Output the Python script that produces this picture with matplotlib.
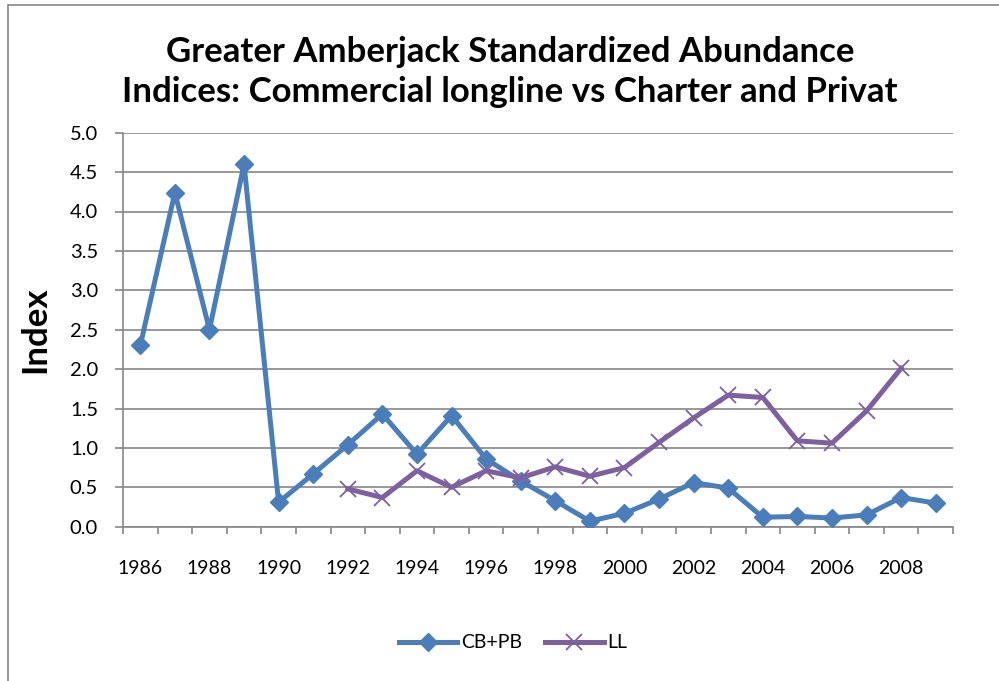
import matplotlib
matplotlib.use("Agg")
import matplotlib.pyplot as plt
import numpy as np

years_cb = list(range(1986, 2010))
cb_pb = [2.30, 4.24, 2.50, 4.60, 0.31, 0.67, 1.04, 1.43, 0.92, 1.41, 0.86, 0.58,
         0.33, 0.07, 0.17, 0.35, 0.56, 0.49, 0.12, 0.13, 0.11, 0.15, 0.37, 0.30]
years_ll = list(range(1992, 2009))
ll = [0.48, 0.37, 0.71, 0.50, 0.71, 0.62, 0.76, 0.64, 0.75, 1.07, 1.38, 1.67,
      1.64, 1.09, 1.06, 1.47, 2.01]
year_labels = list(range(1986, 2010, 2))
y_ticks = [0.0, 0.5, 1.0, 1.5, 2.0, 2.5, 3.0, 3.5, 4.0, 4.5, 5.0]
title = "Greater Amberjack Standardized Abundance\nIndices: Commercial longline vs Charter and Privat"

plt.rcParams['font.family'] = ['Lato', 'DejaVu Sans']

BLUE = '#4A7EBB'
PURPLE = '#7D60A0'
GRID = '#868686'

fig = plt.figure(figsize=(9.99, 6.81), dpi=100)
# chart border
fig.add_artist(plt.Rectangle((8/999, -0.02), 1.2, 1 - 5/681 + 0.02, transform=fig.transFigure,
                             fill=False, edgecolor='#868686', linewidth=1.2))

ax = fig.add_axes([123/999, 1 - 526.7/681, (953 - 123)/999, (526.7 - 132.7)/681])

ax.plot(years_cb, cb_pb, color=BLUE, lw=3.6, marker='D', ms=9.5, mfc=BLUE, mec=BLUE,
        solid_joinstyle='round', zorder=3, label='CB+PB')
ax.plot(years_ll, ll, color=PURPLE, lw=3.6, marker='x', ms=12, mew=1.3, mec=PURPLE,
        solid_joinstyle='round', zorder=4, label='LL')

ax.set_xlim(1985.5, 2009.5)
ax.set_ylim(0, 5)
ax.set_yticks(y_ticks)
ax.set_yticklabels([f"{v:.1f}" for v in y_ticks])
ax.set_xticks(year_labels)
ax.set_xticklabels([str(y) for y in year_labels])
ax.set_xticks(np.arange(1985.5, 2010.0, 1.0), minor=True)

ax.tick_params(axis='x', which='major', length=0, pad=24, labelsize=14, colors='black')
ax.tick_params(axis='x', which='minor', length=5, width=1.2, color=GRID, direction='out')
ax.tick_params(axis='y', which='major', length=6, width=1.2, color=GRID, pad=12,
               labelsize=14.5, labelcolor='black')

ax.grid(axis='y', color=GRID, lw=1.2)
ax.set_axisbelow(True)
for s in ['top', 'right']:
    ax.spines[s].set_visible(False)
for s in ['left', 'bottom']:
    ax.spines[s].set_color(GRID)
    ax.spines[s].set_linewidth(1.2)

ax.set_ylabel('Index', fontsize=25, fontweight='bold')
ax.yaxis.set_label_coords(-72/830, 0.5)

fig.text(510/999, 1 - 72/681, title, ha='center', va='center', fontsize=25,
         fontweight='bold', linespacing=1.28)

leg = fig.legend(loc='center', bbox_to_anchor=(513/999, 1 - 643/681), ncol=2, frameon=False,
                 fontsize=14, handlelength=3.0, columnspacing=1.2, handletextpad=0.2)

fig.savefig('out.png', dpi=100)
